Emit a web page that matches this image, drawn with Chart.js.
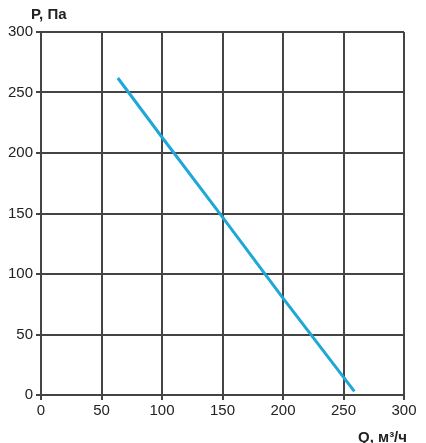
<!DOCTYPE html>
<html>
<head>
<meta charset="utf-8">
<script src="https://cdn.jsdelivr.net/npm/chart.js@4.4.1/dist/chart.umd.min.js"></script>
<style>
  html, body { margin: 0; padding: 0; background: #fff; }
  #wrap { width: 426px; height: 443px; position: relative; }
</style>
</head>
<body>
<div id="wrap"><canvas id="chart"></canvas></div>
<script>
"use strict";

// flow Q, m3/h and pressure P, Pa
var flowQ = [63.5, 100, 150, 200, 259];
var pressureP = [262, 213, 147, 80, 3];
var xTicks = [0, 50, 100, 150, 200, 250, 300];
var yTicks = [0, 50, 100, 150, 200, 250, 300];
var yTitle = "P, Па";
var xTitle = "Q, м³/ч";

var gridColor = "#444";
var lineColor = "#1fa7d7";
var textColor = "#222";
var fontFamily = "'Liberation Sans', Arial, sans-serif";

var points = flowQ.map(function(q, i) {
  return { x: q, y: pressureP[i] };
});

var axisTitles = {
  id: "axisTitles",
  afterDraw: function(chart) {
    var ctx = chart.ctx;
    var area = chart.chartArea;
    ctx.save();
    ctx.fillStyle = textColor;
    ctx.font = "bold 15px " + fontFamily;
    ctx.textBaseline = "alphabetic";
    ctx.textAlign = "left";
    ctx.fillText(yTitle, 31, 19);
    ctx.textAlign = "right";
    ctx.fillText(xTitle, area.right + 3, 442);
    ctx.restore();
  }
};

new Chart(document.getElementById("chart"), {
  type: "scatter",
  data: {
    datasets: [{
      data: points,
      showLine: true,
      borderColor: lineColor,
      borderWidth: 3,
      pointRadius: 0,
      fill: false
    }]
  },
  options: {
    responsive: true,
    maintainAspectRatio: false,
    animation: false,
    layout: { padding: { top: 32, right: 22, left: 0, bottom: 0 } },
    plugins: {
      legend: { display: false },
      tooltip: { enabled: false }
    },
    scales: {
      x: {
        type: "linear",
        min: 0,
        max: 300,
        afterFit: function(scale) { scale.height = 48; },
        afterBuildTicks: function(scale) {
          scale.ticks = xTicks.map(function(v) { return { value: v }; });
        },
        grid: { color: gridColor, lineWidth: 2, tickLength: 5 },
        border: { color: gridColor, width: 2 },
        ticks: { color: textColor, font: { family: fontFamily, size: 15 }, padding: 2, maxRotation: 0 }
      },
      y: {
        type: "linear",
        min: 0,
        max: 300,
        afterFit: function(scale) { scale.width = 41; },
        afterBuildTicks: function(scale) {
          scale.ticks = yTicks.map(function(v) { return { value: v }; });
        },
        grid: { color: gridColor, lineWidth: 2, tickLength: 5 },
        border: { color: gridColor, width: 2 },
        ticks: { color: textColor, font: { family: fontFamily, size: 15 }, padding: 3 }
      }
    }
  },
  plugins: [axisTitles]
});
</script>
</body>
</html>
